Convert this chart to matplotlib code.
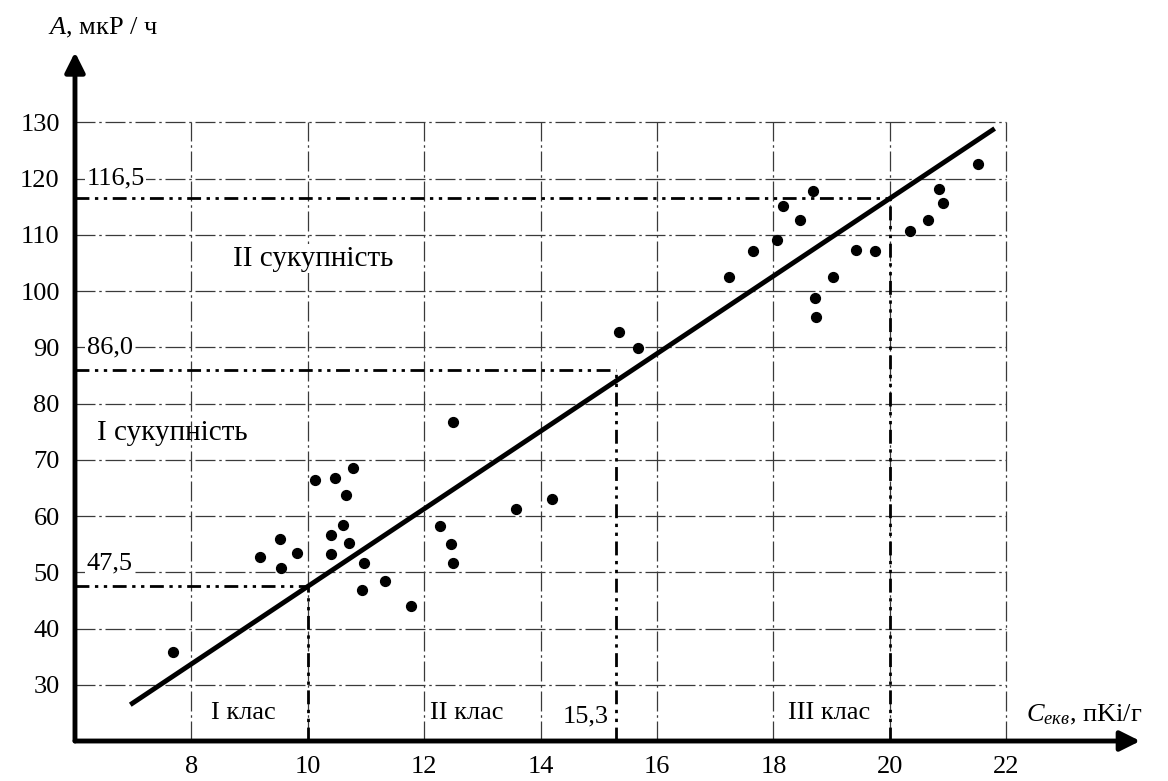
import matplotlib
matplotlib.use("Agg")
import matplotlib.pyplot as plt

# measured points (C_екв, пKi/г ; A, мкР/ч)
c_ekv = [7.68, 9.18, 9.53, 9.54, 9.82, 10.12, 10.47, 10.78, 10.66, 10.60,
         10.39, 10.70, 10.39, 10.96, 10.93, 11.33, 11.77, 12.49, 12.27, 12.46,
         12.49, 13.57, 14.19, 15.35, 15.67, 17.23, 17.65, 18.06, 18.16, 18.46,
         18.68, 18.72, 18.73, 19.02, 19.41, 19.74, 20.34, 20.66, 20.84, 20.91,
         21.52]
a_rate = [35.9, 52.7, 56.0, 50.8, 53.4, 66.4, 66.8, 68.5, 63.8, 58.5,
          56.6, 55.2, 53.3, 51.6, 46.8, 48.5, 44.0, 76.8, 58.2, 55.0,
          51.6, 61.2, 63.0, 92.8, 89.9, 102.6, 107.2, 109.1, 115.2, 112.6,
          117.8, 98.8, 95.4, 102.5, 107.4, 107.2, 110.7, 112.6, 118.2, 115.7,
          122.7]

# regression line A = b0 + b1*C
b0, b1 = -21.5, 6.9
line_x = [6.95, 21.8]

# class boundaries
bound_c = [10, 15.3, 20]
bound_a = [47.5, 86.0, 116.5]
bound_txt = ["47,5", "86,0", "116,5"]

x_ticks = [8, 10, 12, 14, 16, 18, 20, 22]
y_ticks = [30, 40, 50, 60, 70, 80, 90, 100, 110, 120, 130]

plt.rcParams['font.family'] = ['Liberation Serif', 'DejaVu Serif']
plt.rcParams['mathtext.fontset'] = 'custom'
plt.rcParams['mathtext.rm'] = 'Liberation Serif'
plt.rcParams['mathtext.it'] = 'Liberation Serif:italic'

fig = plt.figure(figsize=(11.68, 7.81), dpi=100)
ax = fig.add_axes([0.0642, 0.0512, 0.912, 0.882])
ax.set_xlim(6.0, 24.3)
ax.set_ylim(20, 142.5)
for s in ax.spines.values():
    s.set_visible(False)

# grid
grid_ls = (0, (16, 3, 2, 3))
ax.hlines(y_ticks, 6.0, 22, colors='#3a3a3a', lw=0.9, linestyles=grid_ls)
ax.vlines(x_ticks, 20, 130, colors='#3a3a3a', lw=0.9, linestyles=grid_ls)

# boundary lines
bl = (0, (5, 2, 1.2, 2, 1.2, 2))
for c, a in zip(bound_c, bound_a):
    ax.hlines(a, 6.0, c, colors='black', lw=2, linestyles=bl)
    ax.vlines(c, 20, a, colors='black', lw=2, linestyles=bl)

for a, t in zip([51.5, 90.0, 120.0], bound_txt):
    ax.text(6.2, a, t, fontsize=19, va='center', ha='left',
            bbox=dict(facecolor='white', edgecolor='none', pad=1))

# regression line
ax.plot(line_x, [b0 + b1 * x for x in line_x], color='black', lw=3.5,
        solid_capstyle='butt')

ax.scatter(c_ekv, a_rate, s=50, color='black', zorder=5)

# axes with arrows
ax.annotate('', xy=(24.3, 20), xytext=(6.0, 20),
            arrowprops=dict(arrowstyle='-|>', lw=3.5, color='black',
                            mutation_scale=30, shrinkA=0, shrinkB=0),
            annotation_clip=False)
ax.annotate('', xy=(6.0, 142.5), xytext=(6.0, 20),
            arrowprops=dict(arrowstyle='-|>', lw=3.5, color='black',
                            mutation_scale=30, shrinkA=0, shrinkB=0),
            annotation_clip=False)

ax.set_xticks(x_ticks)
ax.set_yticks(y_ticks)
ax.tick_params(length=0, labelsize=19, pad=11)

# texts
ax.text(6.38, 74.7, "I сукупність", fontsize=21, va='center', ha='left')
ax.text(10.1, 105.8, "II сукупність", fontsize=21, va='center', ha='center',
        bbox=dict(facecolor='white', edgecolor='none', pad=1))
ax.text(8.9, 24.9, "I клас", fontsize=19, va='center', ha='center')
ax.text(12.73, 24.9, "II клас", fontsize=19, va='center', ha='center')
ax.text(14.78, 24.3, "15,3", fontsize=19, va='center', ha='center')
ax.text(18.96, 24.9, "III клас", fontsize=19, va='center', ha='center')
ax.text(22.33, 24.7, r"$C_{екв}$, пKi/г", fontsize=19, va='center', ha='left')
ax.text(5.53, 146.8, r"$A$, мкР / ч", fontsize=19, va='center', ha='left',
        clip_on=False)

fig.savefig("out.png", dpi=100)
